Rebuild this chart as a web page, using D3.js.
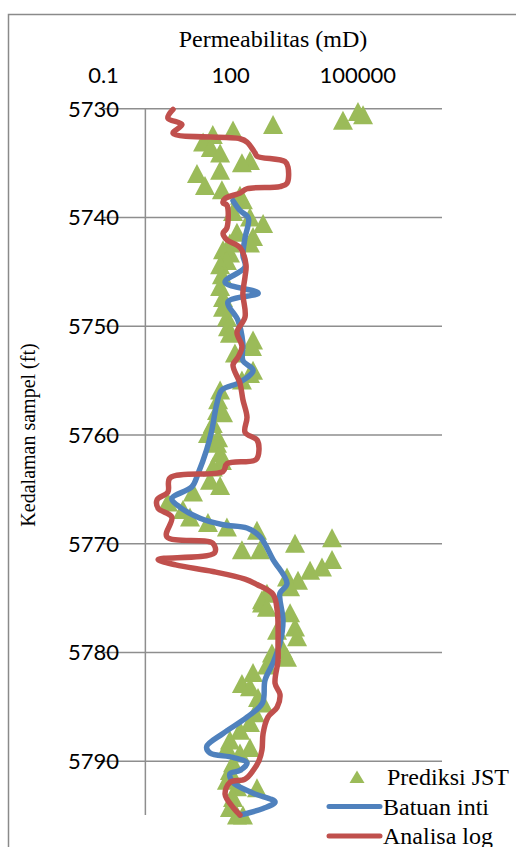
<!DOCTYPE html>
<html>
<head>
<meta charset="utf-8">
<script src="https://cdnjs.cloudflare.com/ajax/libs/d3/7.8.5/d3.min.js"></script>
<style>
  body { margin: 0; background: #fff; }
  svg { display: block; }
  .tick-label text { font-family: Lato, "Liberation Sans", sans-serif; font-size: 22px; fill: #000; }
  .serif { font-family: "Liberation Serif", "DejaVu Serif", serif; fill: #000; }
</style>
</head>
<body>
<div id="chart"></div>
<script>
// depth ticks (ft) and permeability ticks (mD)
const depthTicks = [5730, 5740, 5750, 5760, 5770, 5780, 5790];
const permTicks = [0.1, 100, 100000];

// Batuan inti (core)
const coreDepth = [5738.5, 5739.4, 5740.1, 5741.9, 5743.5, 5744.6, 5746.0, 5747.0, 5747.8, 5749.5,
  5751.6, 5753.2, 5754.1, 5755.2, 5755.9, 5757.1, 5759.6, 5761.4, 5763.6, 5764.8,
  5765.9, 5766.7, 5767.7, 5768.3, 5768.6, 5769.4, 5771.5, 5773.7, 5774.6, 5775.2,
  5777.1, 5779.2, 5781.0, 5782.6, 5784.7, 5786.0, 5787.5, 5788.7, 5789.3, 5789.7,
  5790.2, 5790.9, 5791.2, 5792.0, 5793.0, 5793.8, 5794.4, 5795.0];
const corePerm = [117, 171, 270, 225, 200, 225, 76, 460, 89, 153,
  200, 200, 350, 171, 64, 49, 37, 28, 17.5, 12.6,
  4.2, 6.6, 19.5, 68, 250, 507, 1030, 2200, 1500, 1500,
  1770, 1500, 1030, 665, 580, 250, 68, 28, 33.5, 117,
  250, 171, 99, 117, 350, 1150, 600, 171];

// Analisa log
const logDepth = [5730.1, 5730.9, 5731.5, 5732.3, 5732.8, 5733.1, 5734.1, 5734.4, 5734.9, 5735.4,
  5736.9, 5737.2, 5737.4, 5737.8, 5738.3, 5738.7, 5738.9, 5741.0, 5741.5, 5742.1,
  5742.8, 5744.4, 5745.5, 5747.0, 5749.2, 5750.6, 5751.9, 5752.9, 5753.6, 5755.3,
  5756.8, 5758.4, 5759.8, 5760.5, 5761.4, 5762.3, 5762.7, 5763.4, 5764.0, 5765.3,
  5766.0, 5766.8, 5767.6, 5769.4, 5770.0, 5770.9, 5771.5, 5772.0, 5772.6, 5773.3,
  5773.8, 5774.7, 5776.3, 5779.6, 5780.8, 5782.9, 5783.9, 5785.1, 5786.0, 5787.5,
  5789.0, 5790.0, 5790.9, 5791.7, 5792.0, 5793.1, 5794.3, 5795.0];
const logPerm = [4.5, 3.4, 7.3, 4.5, 171, 250, 386, 430, 1970, 2320,
  2200, 1500, 250, 171, 76, 68, 84, 84, 68, 84,
  171, 237, 225, 200, 225, 145, 190, 153, 117, 171,
  200, 250, 225, 430, 480, 410, 84, 68, 3.8, 3.4,
  1.9, 2.0, 4.2, 3.2, 39, 43, 2.0, 5.2, 39, 225,
  430, 1030, 1300, 1350, 1350, 1150, 1500, 1280, 780, 600,
  565, 480, 350, 225, 99, 76, 117, 171];

// Prediksi JST
const jstDepth = [5730.3, 5730.6, 5731.1, 5731.5, 5732.0, 5732.4, 5733.1, 5733.6, 5734.1, 5734.8,
  5735.0, 5735.7, 5736.0, 5737.1, 5737.5, 5738.0, 5738.4, 5739.5, 5740.0, 5740.6,
  5741.4, 5741.8, 5742.4, 5742.4, 5743.0, 5743.3, 5744.0, 5744.4, 5745.3, 5746.4,
  5747.4, 5748.3, 5749.2, 5750.1, 5750.7, 5751.3, 5751.9, 5752.5, 5754.1, 5754.4,
  5755.0, 5755.9, 5756.8, 5757.8, 5758.0, 5759.0, 5759.9, 5760.3, 5760.8, 5761.7,
  5762.4, 5763.0, 5764.2, 5764.7, 5765.3, 5766.2, 5766.9, 5767.6, 5768.1, 5768.5,
  5768.8, 5769.5, 5770.0, 5770.6, 5770.6, 5771.5, 5772.2, 5772.5, 5773.1, 5773.4,
  5774.0, 5774.6, 5775.2, 5775.5, 5775.9, 5776.4, 5777.7, 5778.0, 5778.6, 5779.8,
  5780.1, 5780.5, 5781.2, 5781.9, 5782.9, 5783.2, 5784.2, 5784.7, 5785.6, 5786.5,
  5787.2, 5788.1, 5788.8, 5788.8, 5789.3, 5790.2, 5790.9, 5791.8, 5792.4, 5792.5,
  5793.4, 5794.3, 5795.0, 5795.0];
const jstPerm = [104000, 137000, 46000, 1030, 117, 39, 23, 35, 58, 294,
  190, 58, 16.5, 25.5, 64, 171, 200, 117, 294, 600,
  145, 347, 99, 294, 68, 99, 84, 58, 64, 58,
  68, 68, 84, 89, 99, 347, 328, 130, 347, 294,
  190, 58, 52, 49, 68, 39, 30, 52, 49, 58,
  64, 39, 33.5, 58, 13.3, 3.4, 7.7, 11.3, 30, 84,
  430, 25400, 3400, 190, 507, 25400, 14700, 7700, 2200, 4000,
  2600, 740, 565, 565, 740, 2600, 3400, 1280, 3800, 1770,
  970, 2200, 740, 347, 190, 294, 455, 600, 386, 294,
  171, 99, 84, 294, 171, 117, 99, 84, 145, 430,
  117, 99, 201, 145];

const width = 516;
const height = 847;
const plot = {left: 103, right: 442, top: 108.3, bottom: 815};

const svg = d3.select('#chart').append('svg')
  .attr('width', width)
  .attr('height', height);

// chart area border (cut off on the right and bottom)
svg.append('rect')
  .attr('x', 8.5).attr('y', 14.5)
  .attr('width', 540).attr('height', 880)
  .attr('fill', 'none')
  .attr('stroke', '#8a8a8a')
  .attr('stroke-width', 1.5);

const x = d3.scaleLog().domain([0.1, 1e7]).range([plot.left, plot.right]);
const y = d3.scaleLinear().domain([5730, 5795]).range([plot.top, plot.bottom]);

// horizontal gridlines
const gridG = svg.append('g')
  .attr('transform', `translate(${plot.left},0)`)
  .call(d3.axisLeft(y).tickValues(depthTicks).tickSize(-(plot.right - plot.left)).tickFormat(''));
gridG.select('.domain').remove();
gridG.selectAll('line').attr('stroke', '#8e8e8e').attr('stroke-width', 1.5);

// vertical axis line, crossing at 1 mD
svg.append('line')
  .attr('x1', x(1)).attr('x2', x(1))
  .attr('y1', plot.top).attr('y2', plot.bottom)
  .attr('stroke', '#8e8e8e')
  .attr('stroke-width', 1.5);

// depth labels
const yLabG = svg.append('g')
  .attr('class', 'tick-label')
  .attr('transform', 'translate(119,0)')
  .call(d3.axisLeft(y).tickValues(depthTicks).tickSize(0).tickPadding(0).tickFormat(d3.format('d')));
yLabG.select('.domain').remove();
yLabG.selectAll('text').attr('dy', '0.36em');

// permeability labels on top
const xLabG = svg.append('g')
  .attr('class', 'tick-label')
  .attr('transform', 'translate(0,83)')
  .call(d3.axisTop(x).tickValues(permTicks).tickSize(0).tickPadding(0).tickFormat(d3.format('~g')));
xLabG.select('.domain').remove();
xLabG.selectAll('text').attr('dy', 0);

// titles
svg.append('text')
  .attr('class', 'serif')
  .attr('x', 273).attr('y', 47)
  .attr('text-anchor', 'middle')
  .style('font-size', '24px')
  .text('Permeabilitas (mD)');

svg.append('text')
  .attr('class', 'serif')
  .attr('transform', 'translate(35,435) rotate(-90)')
  .attr('text-anchor', 'middle')
  .style('font-size', '20px')
  .text('Kedalaman sampel (ft)');

const line = d3.line()
  .x(d => x(d[1]))
  .y(d => y(d[0]))
  .curve(d3.curveCatmullRom.alpha(0.5));

const triPath = 'M0,-9.5L10,9.5L-10,9.5Z';

// Prediksi JST markers
svg.append('g').selectAll('path')
  .data(d3.zip(jstDepth, jstPerm))
  .enter().append('path')
  .attr('d', triPath)
  .attr('transform', d => `translate(${x(d[1])},${y(d[0])})`)
  .attr('fill', '#9bbb59');

// Batuan inti
svg.append('path')
  .datum(d3.zip(coreDepth, corePerm))
  .attr('d', line)
  .attr('fill', 'none')
  .attr('stroke', '#4f81bd')
  .attr('stroke-width', 5.5)
  .attr('stroke-linejoin', 'round')
  .attr('stroke-linecap', 'round');

// Analisa log
svg.append('path')
  .datum(d3.zip(logDepth, logPerm))
  .attr('d', line)
  .attr('fill', 'none')
  .attr('stroke', '#c0504d')
  .attr('stroke-width', 5.5)
  .attr('stroke-linejoin', 'round')
  .attr('stroke-linecap', 'round');

// legend
const legendItems = [
  {name: 'Prediksi JST', type: 'marker', color: '#9bbb59'},
  {name: 'Batuan inti', type: 'line', color: '#4f81bd'},
  {name: 'Analisa log', type: 'line', color: '#c0504d'}
];
const legend = svg.append('g').attr('transform', 'translate(327,777)');
legendItems.forEach(function (item, i) {
  const row = legend.append('g').attr('transform', `translate(0,${i * 29.5})`);
  if (item.type === 'marker') {
    row.append('path')
      .attr('d', 'M0,-6.5L7.5,6L-7.5,6Z')
      .attr('transform', 'translate(30,0)')
      .attr('fill', item.color);
  } else {
    row.append('line')
      .attr('x1', 2).attr('x2', 53)
      .attr('y1', 0).attr('y2', 0)
      .attr('stroke', item.color)
      .attr('stroke-width', 5)
      .attr('stroke-linecap', 'round');
  }
  row.append('text')
    .attr('class', 'serif')
    .attr('x', i === 0 ? 60 : 56)
    .attr('y', 8)
    .style('font-size', '24px')
    .text(item.name);
});
</script>
</body>
</html>
